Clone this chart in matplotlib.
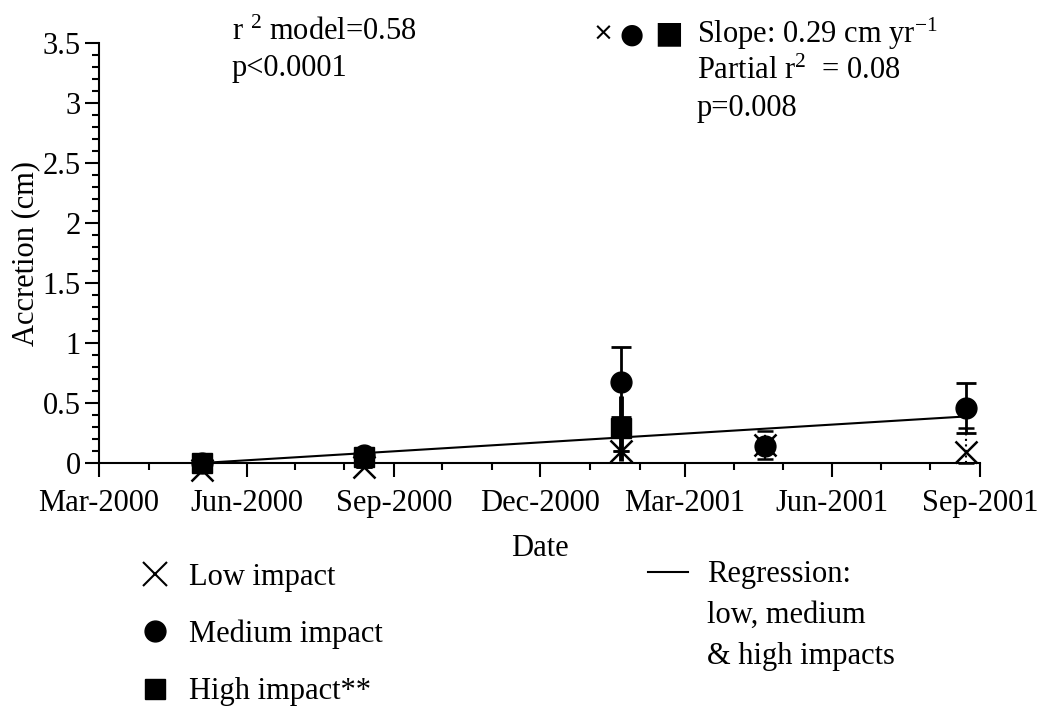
import pandas as pd
import matplotlib
matplotlib.use("Agg")
import matplotlib.pyplot as plt
import matplotlib.dates as mdates
from matplotlib.lines import Line2D

# sampling dates and mean accretion (cm) per impact class
dates = pd.to_datetime(["2000-05-04", "2000-08-13", "2001-01-20", "2001-04-20", "2001-08-23"])
low = [-0.06, -0.03, 0.10, 0.15, 0.09]
low_err_lo = [0.0, 0.0, 0.0, 0.12, 0.09]
low_err_hi = [0.0, 0.0, 0.0, 0.12, 0.20]
medium = [0.0, 0.07, 0.675, 0.14, 0.46]
medium_err = [0.0, 0.0, 0.29, 0.0, 0.21]
high = [0.0, 0.05, 0.29]
high_err = [0.0, 0.0, 0.27]

# regression over all impacts (0.29 cm per year)
slope_per_year = 0.29
reg_start, reg_end = dates[0], dates[-1]
reg_y = [0.0, slope_per_year * (reg_end - reg_start).days / 365.25 + 0.01]

plt.rcParams['font.family'] = ['Liberation Serif', 'DejaVu Sans']
plt.rcParams['font.size'] = 22
plt.rcParams['mathtext.fontset'] = 'custom'
plt.rcParams['mathtext.rm'] = 'Liberation Serif'
plt.rcParams['mathtext.it'] = 'Liberation Serif:italic'

fig = plt.figure(figsize=(10.45, 7.13), dpi=100)
ax = fig.add_axes([0.0947, 0.3506, 0.8431, 0.5891])

ax.plot([reg_start, reg_end], reg_y, color='black', lw=1.5, zorder=2)

e_low = ax.errorbar(dates, low, yerr=[low_err_lo, low_err_hi], fmt='x', color='black', ms=16,
                    mew=1.8, ecolor='black', elinewidth=1.5, capsize=6, capthick=1, zorder=3)
e_low[2][0].set_linestyle(':')
e_med = ax.errorbar(dates, medium, yerr=medium_err, fmt='o', color='black', ms=15,
                    elinewidth=2, capsize=7, capthick=2, zorder=4)
e_high = ax.errorbar(dates[:3], high, yerr=high_err, fmt='s', color='black', ms=15,
                     elinewidth=3.5, capsize=0, zorder=5)
for cont in (e_low, e_med, e_high):
    for art in cont.get_children():
        art.set_clip_on(False)

ax.set_xlim(pd.Timestamp("2000-03-01"), pd.Timestamp("2001-09-01"))
ax.set_ylim(0, 3.5)
ax.xaxis.set_major_locator(mdates.MonthLocator(bymonth=(3, 6, 9, 12)))
ax.xaxis.set_minor_locator(mdates.MonthLocator())
ax.xaxis.set_major_formatter(mdates.DateFormatter('%b-%Y'))
ax.set_yticks([0, 0.5, 1, 1.5, 2, 2.5, 3, 3.5])
ax.set_yticklabels(['0', '0.5', '1', '1.5', '2', '2.5', '3', '3.5'])
ax.set_yticks([i / 10 for i in range(36)], minor=True)

for s in ['top', 'right']:
    ax.spines[s].set_visible(False)
for s in ['left', 'bottom']:
    ax.spines[s].set_linewidth(1.5)
ax.tick_params(which='major', length=10, width=1.5)
ax.tick_params(axis='x', which='major', pad=9)
ax.tick_params(axis='y', which='major', pad=3)
ax.tick_params(which='minor', length=5, width=1.5)

ax.set_xlabel('Date', labelpad=11)
ax.set_ylabel('Accretion (cm)', labelpad=2)

# statistics text
fig.text(0.222, 0.954, r'r $^{2}$ model=0.58', va='center')
fig.text(0.222, 0.904, 'p<0.0001', va='center')
fig.text(0.567, 0.952, '\u00d7', va='center', family='DejaVu Sans', fontsize=18)
fig.text(0.593, 0.952, '\u25cf', va='center', family='DejaVu Sans', fontsize=20)
fig.text(0.626, 0.952, '\u25a0', va='center', family='DejaVu Sans', fontsize=22)
fig.text(0.667, 0.952, r'Slope: 0.29 cm yr$^{-1}$', va='center')
fig.text(0.667, 0.900, r'Partial r$^{2}$  = 0.08', va='center')
fig.text(0.667, 0.848, 'p=0.008', va='center')

# legends below the axes
h_low = Line2D([], [], marker='x', color='black', ls='none', ms=17, mew=1.5)
h_med = Line2D([], [], marker='o', color='black', ls='none', ms=15)
h_high = Line2D([], [], marker='s', color='black', ls='none', ms=14)
fig.legend([h_low, h_med, h_high], ['Low impact', 'Medium impact', 'High impact**'],
           loc='upper left', bbox_to_anchor=(0.134, 0.211),
           frameon=False, handlelength=1.0, handletextpad=0.6, labelspacing=0.92,
           borderpad=0, borderaxespad=0)
h_reg = Line2D([], [], color='black', lw=1.5)
h_none = Line2D([], [], color='none')
fig.legend([h_reg, h_none, h_none], ['Regression:', 'low, medium', '& high impacts'],
           loc='upper left', bbox_to_anchor=(0.620, 0.214),
           frameon=False, handlelength=1.3, handletextpad=0.65, labelspacing=0.38,
           borderpad=0, borderaxespad=0)

fig.savefig('out.png', dpi=100)
